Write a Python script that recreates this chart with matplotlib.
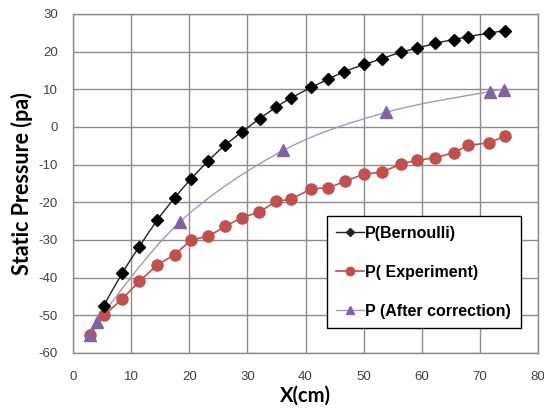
import numpy as np
import matplotlib
matplotlib.use('Agg')
import matplotlib.pyplot as plt
from matplotlib.path import Path
from matplotlib.patches import PathPatch
from matplotlib.lines import Line2D

# Data
x_bern = [5.3, 8.5, 11.4, 14.5, 17.5, 20.3, 23.2, 26.1, 29.1, 32.1, 35.0, 37.5,
          41.0, 43.9, 46.7, 50.1, 53.1, 56.5, 59.2, 62.3, 65.5, 68.0, 71.5, 74.3]
p_bern = [-47.4, -38.7, -31.8, -24.7, -18.8, -13.8, -9.1, -4.9, -1.3, 2.2, 5.3, 7.7,
          10.5, 12.7, 14.7, 16.6, 18.1, 19.9, 20.9, 22.2, 23.2, 24.0, 24.9, 25.6]

x_exp = [2.9, 5.4, 8.5, 11.4, 14.5, 17.5, 20.3, 23.3, 26.2, 29.0, 32.0, 35.0, 37.5,
         41.0, 43.9, 46.8, 50.1, 53.1, 56.5, 59.2, 62.3, 65.5, 68.0, 71.5, 74.3]
p_exp = [-55.1, -49.9, -45.6, -41.0, -36.6, -33.9, -30.0, -29.0, -26.4, -24.1, -22.6,
         -19.7, -19.2, -16.4, -16.2, -14.4, -12.5, -12.0, -9.8, -8.8, -8.2, -6.8,
         -4.9, -4.2, -2.5]

x_corr = [2.9, 4.1, 18.4, 36.2, 53.9, 71.7, 74.1]
p_corr = [-55.1, -51.7, -25.2, -6.2, 3.9, 9.4, 9.8]

xticks = [0, 10, 20, 30, 40, 50, 60, 70, 80]
yticks = [-60, -50, -40, -30, -20, -10, 0, 10, 20, 30]


def smooth_path(xs, ys):
    # Excel-like smoothed line: Catmull-Rom segments as cubic Beziers
    pts = np.column_stack([xs, ys])
    n = len(pts)
    verts = [pts[0]]
    codes = [Path.MOVETO]
    for i in range(n - 1):
        p0 = pts[max(i - 1, 0)]
        p1 = pts[i]
        p2 = pts[i + 1]
        p3 = pts[min(i + 2, n - 1)]
        verts += [p1 + (p2 - p0) / 6.0, p2 - (p3 - p1) / 6.0, p2]
        codes += [Path.CURVE4] * 3
    return Path(verts, codes)


plt.rcParams['axes.unicode_minus'] = False

c_bern = 'black'
c_exp = '#C0504D'
c_corr = '#8064A2'
c_corr_line = '#A395C6'

fig = plt.figure(figsize=(5.44, 4.15), dpi=100)
ax = fig.add_axes([0.1342, 0.1494, 0.8548, 0.8169])

ax.add_patch(PathPatch(smooth_path(x_bern, p_bern), fill=False,
                       edgecolor='#222222', lw=1.0, zorder=3))
ax.add_patch(PathPatch(smooth_path(x_corr, p_corr), fill=False,
                       edgecolor=c_corr_line, lw=1.0, zorder=3))
ax.plot(x_exp, p_exp, color=c_exp, lw=1.2, zorder=3)

ax.plot(x_bern, p_bern, ls='none', marker='D', ms=6.5, color=c_bern, zorder=5)
ax.plot(x_exp, p_exp, ls='none', marker='o', ms=8, color=c_exp, zorder=4)
ax.plot(x_corr, p_corr, ls='none', marker='^', ms=8, color=c_corr, zorder=4)

ax.set_xlim(0, 80)
ax.set_ylim(-60, 30)
ax.set_xticks(xticks)
ax.set_yticks(yticks)
ax.grid(True, color='#8c8c8c', lw=1.0)
ax.set_axisbelow(True)
for s in ax.spines.values():
    s.set_color('#8c8c8c')
    s.set_linewidth(1.0)
ax.tick_params(length=0, labelsize=9.5, labelcolor='#404040')
ax.tick_params(axis='x', pad=13)
ax.tick_params(axis='y', pad=11)
for lab in ax.get_xticklabels() + ax.get_yticklabels():
    lab.set_family('Liberation Sans')

ax.set_xlabel('X(cm)', fontsize=14.5, fontweight='bold', family='Lato', labelpad=2)
ax.set_ylabel('Static Pressure (pa)', fontsize=15.5, fontweight='bold',
              family='Lato', labelpad=4)

handles = [
    Line2D([], [], color='#222222', lw=1.0, marker='D', ms=4),
    Line2D([], [], color=c_exp, lw=1.2, marker='o', ms=6),
    Line2D([], [], color=c_corr_line, lw=1.0, marker='^', mfc=c_corr,
           mec=c_corr, ms=6),
]
labels = ['P(Bernoulli)', 'P( Experiment)', 'P (After correction)']
leg = ax.legend(handles, labels, loc='upper left',
                bbox_to_anchor=(0.546, 0.404), frameon=True, fancybox=False,
                edgecolor='black', framealpha=1.0, handlelength=1.7,
                handletextpad=0.1, labelspacing=1.5, borderpad=0.6,
                borderaxespad=0,
                prop={'family': 'Liberation Sans', 'weight': 'bold', 'size': 11.5})
leg.get_frame().set_linewidth(1.0)

fig.savefig('out.png', dpi=100)
